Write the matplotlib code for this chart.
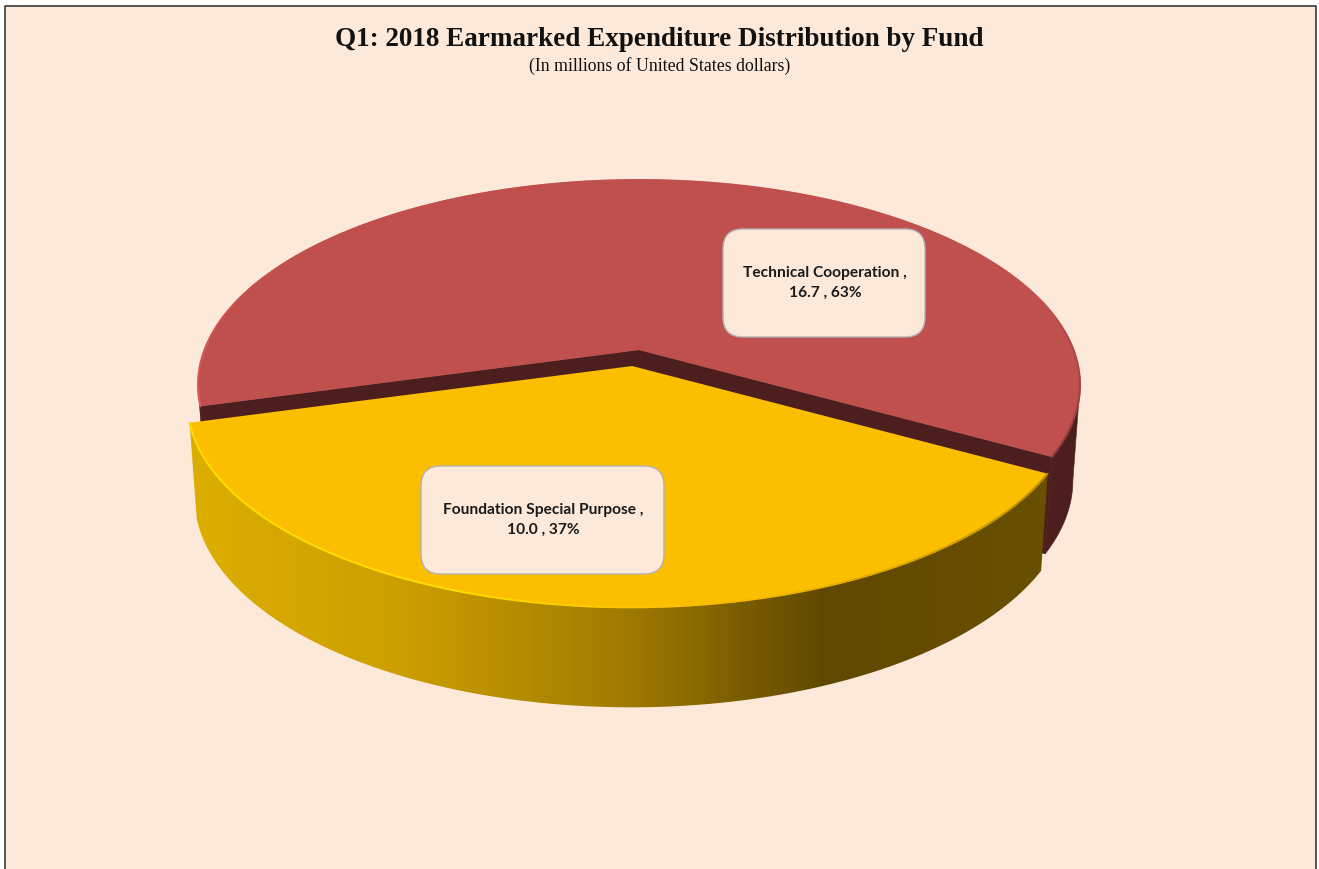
import matplotlib
matplotlib.use('Agg')
import matplotlib.pyplot as plt
import numpy as np
from matplotlib.collections import LineCollection
from matplotlib.colors import LinearSegmentedColormap, to_rgb
from matplotlib.patches import FancyBboxPatch, Polygon

# Data
funds = ['Technical Cooperation', 'Foundation Special Purpose']
amounts = [16.7, 10.0]

# Title text
title = 'Q1: 2018 Earmarked Expenditure Distribution by Fund'
subtitle = '(In millions of United States dollars)'

BG = '#fde9d9'
RED = '#c0504d'
RED_DARK = '#4c1f1e'
YELLOW = '#fcbf00'

W, H = 1319, 869

# Perspective of the pie plane, in pixels
CX, CY = 639, 350
A, B, K = 434.5, 199, 0.1706
SHRINK = 0.984
START = 29.5   # degrees, clockwise on screen from the right
EXPLODE = 0.08


def project(u, v):
    d = 1 - K * v
    return CX + A * u / d, CY + B * v / d


def arc(a0, a1, n=240, off=(0, 0), ru=1.0, rv=1.0):
    t = np.radians(np.linspace(a0, a1, n))
    return project(ru * np.cos(t) + off[0], rv * np.sin(t) + off[1])


def lower(x, y):
    # bottom plane of the pie, a bit narrower and deeper towards the viewer
    return CX + SHRINK * (x - CX), y + 96 + 4 * (y - 423) / 185


def wall_poly(x, y):
    bx, by = lower(x, y)
    return np.column_stack([np.r_[x, bx[::-1]], np.r_[y, by[::-1]]])


total = sum(amounts)
sweep_y = amounts[1] / total * 360
y0, y1 = START, START + sweep_y
mid = np.radians((y0 + y1) / 2)
off = (EXPLODE * np.cos(mid) - 0.006, EXPLODE * np.sin(mid))

fig = plt.figure(figsize=(W / 100, H / 100), dpi=100, facecolor='white')
ax = fig.add_axes([0, 0, 1, 1])
ax.set_xlim(0, W)
ax.set_ylim(H, 0)
ax.axis('off')

# background and frame
ax.add_patch(plt.Rectangle((5, 6), 1311, H, fc=BG, ec='none', zorder=0))
ax.plot([5, 5, 1316, 1316], [H, 6, 6, H], color='#3a3a3a', lw=1.2, zorder=1)

# red slice: outer wall, from the widest point of the ellipse to the cut
rx, ry = arc(y1, y0 + 360, 360)
widest = np.degrees(np.arcsin(K))
for a0, a1 in [(y1, 180 - widest), (widest, y0)]:
    wx, wy = arc(a0, a1, 60)
    ax.add_patch(Polygon(wall_poly(wx, wy), fc=RED_DARK, ec=RED_DARK, lw=0.4, zorder=2))

# red slice: cut faces
ax0, ay0 = project(0, 0)
for i in (0, -1):
    bx0, by0 = lower(np.array([ax0, rx[i]]), np.array([ay0, ry[i]]))
    ax.add_patch(Polygon([(ax0, ay0), (rx[i], ry[i]), (bx0[1], by0[1]), (bx0[0], by0[0])],
                         fc=RED_DARK, ec=RED_DARK, lw=0.5, zorder=3))

# red slice: top
ax.add_patch(Polygon(np.column_stack([np.r_[ax0, rx], np.r_[ay0, ry]]), fc=RED, ec='none', zorder=4))


def rim(x, y, colors, lw, z):
    pts = np.column_stack([x, y])
    segs = np.stack([pts[:-1], pts[1:]], axis=1)
    ax.add_collection(LineCollection(segs, colors=colors, lw=lw, zorder=z, capstyle='round'))


# rim of the red slice, light on the left and dark on the right
t = np.linspace(0, 1, len(rx) - 1)
c_left = np.array(to_rgb('#d95b59'))
c_mid = np.array(to_rgb(RED))
c_right = np.array(to_rgb('#8a3c3a'))
rim_cols = []
for f in t:
    if f < 0.2:
        rim_cols.append(c_left + (c_mid - c_left) * f / 0.2)
    elif f < 0.8:
        rim_cols.append(c_mid)
    else:
        rim_cols.append(c_mid + (c_right - c_mid) * (f - 0.8) / 0.2)
rim(rx, ry, rim_cols, 1.4, 5)

# yellow slice: wall with a left to right gradient
tx, ty = arc(y0, y1, 240, off, ru=0.995, rv=0.98)
cmap = LinearSegmentedColormap.from_list('wall', [
    (0.0, '#dcae00'), (0.24, '#cd9f00'), (0.5, '#a17c00'),
    (0.74, '#604800'), (1.0, '#6a5000')])
patch = Polygon(wall_poly(tx, ty), fc='none', ec='none', zorder=6)
ax.add_patch(patch)
im = ax.imshow(np.linspace(0, 1, 400).reshape(1, -1), extent=(190, 1050, 720, 420),
               cmap=cmap, aspect='auto', zorder=6)
im.set_clip_path(patch)
ax.set_xlim(0, W)
ax.set_ylim(H, 0)

# yellow slice: top and rim
ox, oy = project(off[0], off[1])
ax.add_patch(Polygon(np.column_stack([np.r_[ox, tx], np.r_[oy, ty]]), fc=YELLOW, ec='none', zorder=7))
c_bright = np.array(to_rgb('#ffdc00'))
c_top = np.array(to_rgb(YELLOW))
c_shade = np.array(to_rgb('#b88b00'))
t = np.linspace(0, 1, len(tx) - 1)
rim_cols = []
for f in t:
    if f < 0.4:
        rim_cols.append(c_shade + (c_top - c_shade) * f / 0.4)
    elif f < 0.6:
        rim_cols.append(c_top + (c_bright - c_top) * (f - 0.4) / 0.2)
    else:
        rim_cols.append(c_bright)
rim(tx, ty, rim_cols, 1.4, 8)

# titles
ax.text(659.5, 39.5, title, ha='center', va='center', family='Liberation Serif',
        fontweight='bold', fontsize=19.5, color='#111111', zorder=10)
ax.text(659.5, 66, subtitle, ha='center', va='center', family='Liberation Serif',
        fontsize=12.8, color='#111111', zorder=10)

# data labels
boxes = [(723, 229, 202, 108), (421, 466, 243, 108)]
for name, val, (bx_, by_, bw, bh) in zip(funds, amounts, boxes):
    r = 20
    ax.add_patch(FancyBboxPatch((bx_ + r, by_ + r), bw - 2 * r, bh - 2 * r,
                                boxstyle=f'round,pad={r},rounding_size={r}',
                                fc=BG, ec='#b3b3b3', lw=1.0, zorder=11))
    label = f'{name} ,\n{val:.1f} , {round(val / total * 100)}%'
    ax.text(bx_ + bw / 2 + 1, by_ + bh / 2, label, ha='center', va='center', family='Lato',
            fontweight='bold', fontsize=11.2, linespacing=1.5, color='#1a1a1a', zorder=12)

fig.savefig('out.png', dpi=100, facecolor='white')
plt.close(fig)
